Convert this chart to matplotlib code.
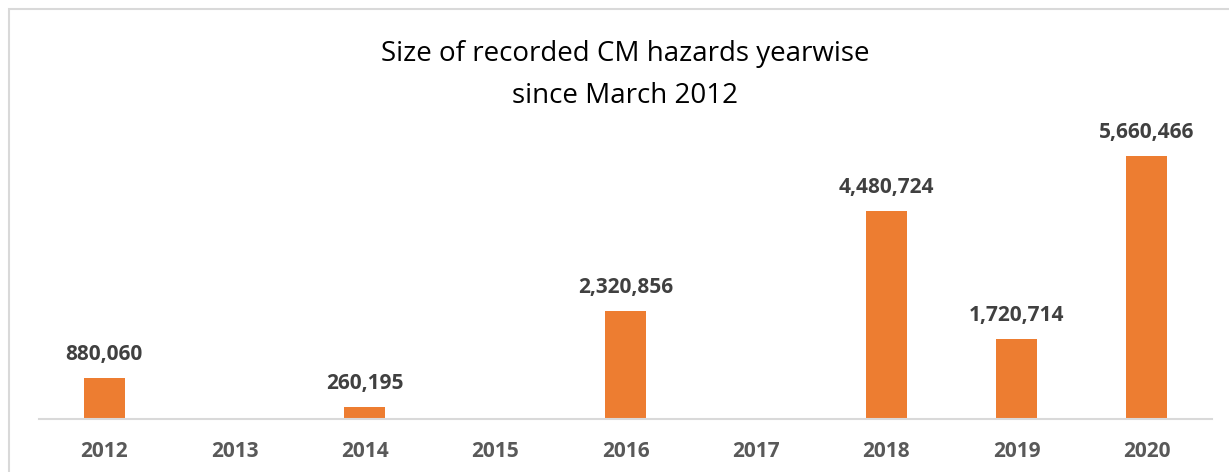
import matplotlib.pyplot as plt
from matplotlib.patches import Rectangle

years = ['2012', '2013', '2014', '2015', '2016', '2017', '2018', '2019', '2020']
sizes = [880060, 0, 260195, 0, 2320856, 0, 4480724, 1720714, 5660466]

W, H = 1229, 472
fig = plt.figure(figsize=(W / 100, H / 100), dpi=100)

# outer chart frame (cut at right and bottom)
fig.patches.append(Rectangle((9 / W, -0.05), 1.1, 1 - 9 / H + 0.05,
                             transform=fig.transFigure, fill=False,
                             edgecolor='#d9d9d9', linewidth=1.5))

# plot area
x0, x1 = 39, 1212
y_axis, y_top = 418.7, 93.5
ax = fig.add_axes([x0 / W, (H - y_axis) / H, (x1 - x0) / W, (y_axis - y_top) / H])

pos = range(len(years))
ax.bar(pos, sizes, width=0.315, color='#ed7d31')
ax.set_xlim(-0.5, len(years) - 0.5)
ax.set_ylim(0, 7000000)

for i, v in enumerate(sizes):
    if v > 0:
        ax.annotate(f'{v:,}', (i, v), xytext=(0, 9), textcoords='offset points',
                    ha='center', va='bottom', fontsize=15, fontweight='bold',
                    color='#404040', family='Open Sans')

ax.set_xticks(list(pos))
ax.set_xticklabels(years, fontsize=15, fontweight='bold', color='#595959',
                   family='Open Sans')
ax.tick_params(axis='x', length=0, pad=16)
ax.set_yticks([])
for s in ['top', 'right', 'left']:
    ax.spines[s].set_visible(False)
ax.spines['bottom'].set_color('#d9d9d9')
ax.spines['bottom'].set_linewidth(1.5)

fig.text(625 / W, 1 - 54 / H, 'Size of recorded CM hazards yearwise',
         ha='center', va='center', fontsize=20, color='#000000', family='Open Sans')
fig.text(625 / W, 1 - 96 / H, 'since March 2012',
         ha='center', va='center', fontsize=20, color='#000000', family='Open Sans')

fig.savefig('out.png', dpi=100)
